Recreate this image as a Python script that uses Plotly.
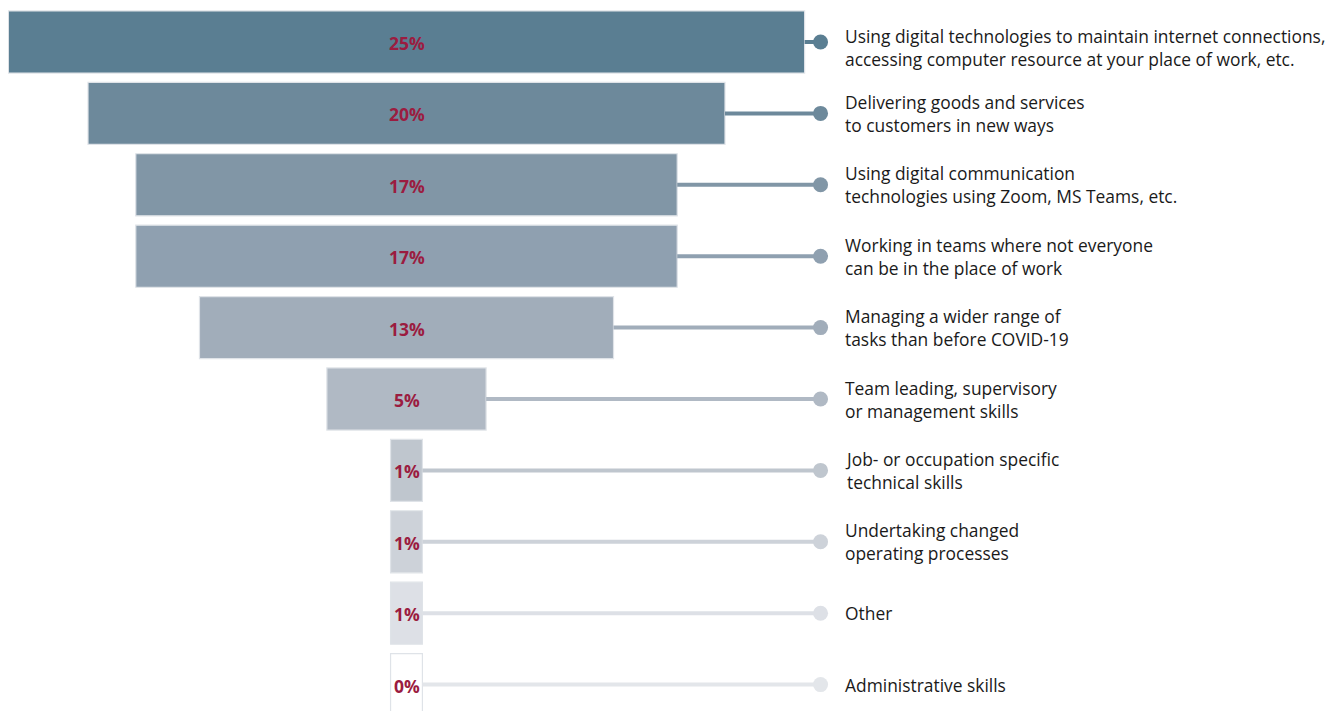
import plotly.graph_objects as go

categories = [
    "Using digital technologies to maintain internet connections,<br>accessing computer resource at your place of work, etc.",
    "Delivering goods and services<br>to customers in new ways",
    "Using digital communication<br>technologies using Zoom, MS Teams, etc.",
    "Working in teams where not everyone<br>can be in the place of work",
    "Managing a wider range of<br>tasks than before COVID-19",
    "Team leading, supervisory<br>or management skills",
    "Job- or occupation specific<br>technical skills",
    "Undertaking changed<br>operating processes",
    "Other",
    "Administrative skills",
]
values = [25, 20, 17, 17, 13, 5, 1, 1, 1, 0]
value_labels = ["25%", "20%", "17%", "17%", "13%", "5%", "1%", "1%", "1%", "0%"]
bar_colors = ["#5a7e92", "#6d899b", "#8196a6", "#8fa0b0", "#a1adba",
              "#b0b9c4", "#bfc6ce", "#cdd2d9", "#dde0e6", "#ffffff"]
line_colors = ["#5a7e92", "#6d899b", "#8196a6", "#8fa0b0", "#a1adba",
               "#b0b9c4", "#bfc6ce", "#cdd2d9", "#dde0e6", "#e3e6ea"]

# the page body adds an 8px margin, so the figure is laid out from there
W, H = 1336, 703
center_px = 398.5
px_per_pct = 31.85
row0_px = 34
row_px = 71.4
dot_x = 13.0
label_x = 13.72

rows = list(range(len(values)))
shown = [max(v, 1) for v in values]   # empty category still drawn as an outlined box

fig = go.Figure()

# connector lines + dots
for i, v in enumerate(shown):
    fig.add_trace(go.Scatter(
        x=[v / 2, dot_x], y=[i, i], mode="lines",
        line=dict(color=line_colors[i], width=4),
        hoverinfo="skip", showlegend=False))
fig.add_trace(go.Scatter(
    x=[dot_x] * len(rows), y=rows, mode="markers",
    marker=dict(color=line_colors, size=15),
    hoverinfo="skip", showlegend=False))

# centred bars
fig.add_trace(go.Bar(
    x=shown, y=rows, base=[-v / 2 for v in shown], orientation="h",
    width=0.87,
    marker=dict(color=bar_colors, line=dict(color="#dfe3e8", width=1.2)),
    hoverinfo="skip", showlegend=False))

# value labels
for i, t in enumerate(value_labels):
    fig.add_annotation(
        x=0, y=i, text=t, showarrow=False, yshift=-1,
        font=dict(family="Open Sans", size=17.5, color="#9b1c40", weight="bold"))

for i, c in enumerate(categories):
    fig.add_annotation(
        x=label_x, y=i, text=c, showarrow=False, xanchor="left", yanchor="middle",
        align="left", yshift=-5 if i == 0 else 0,   # first label sits a bit low
        font=dict(family="Open Sans", size=17.4, color="#1a1a1a"))

x0 = -center_px / px_per_pct
x1 = (W - center_px) / px_per_pct
y_top = -row0_px / row_px
y_bot = (H - row0_px) / row_px

fig.update_layout(
    width=W, height=H, margin=dict(l=0, r=0, t=0, b=0),
    plot_bgcolor="white", paper_bgcolor="white",
    xaxis=dict(range=[x0, x1], visible=False, fixedrange=True),
    yaxis=dict(range=[y_bot, y_top], visible=False, fixedrange=True),
    barmode="overlay",
)

fig.write_html("out.html")
